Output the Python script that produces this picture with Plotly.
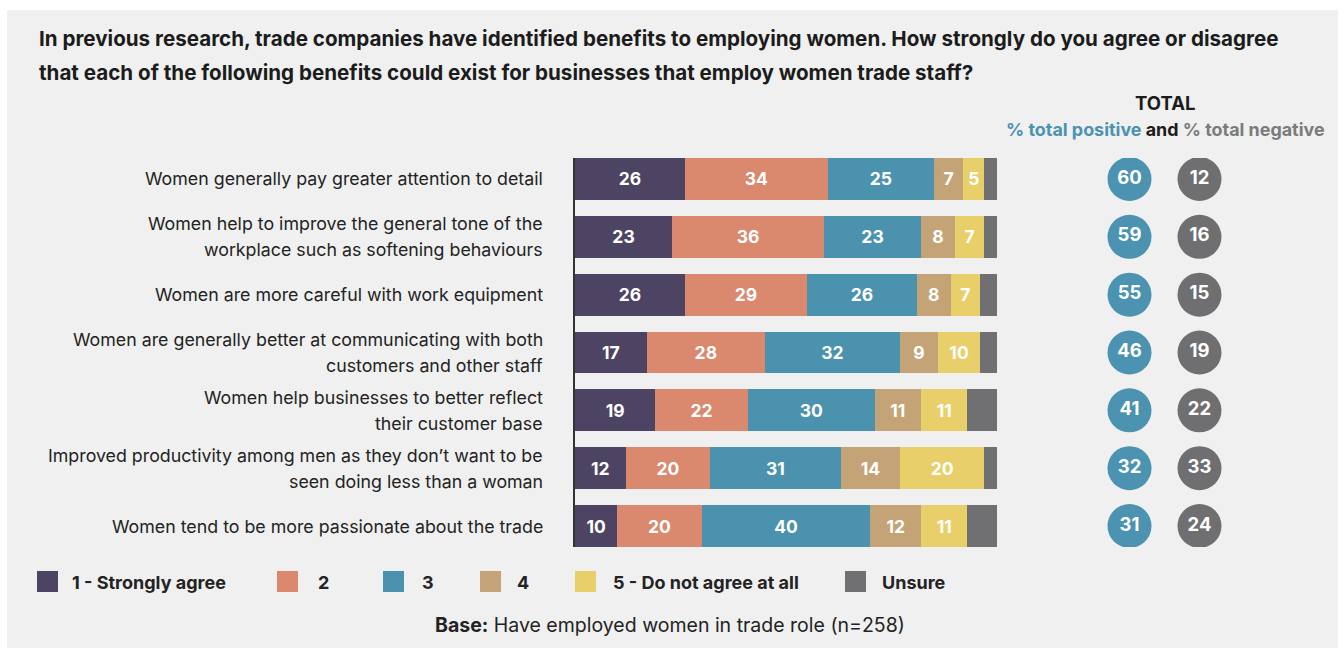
import plotly.graph_objects as go

# Survey statements (each line of a wrapped label is its own entry)
statements = [
    ["Women generally pay greater attention to detail"],
    ["Women help to improve the general tone of the", "workplace such as softening behaviours"],
    ["Women are more careful with work equipment"],
    ["Women are generally better at communicating with both", "customers and other staff"],
    ["Women help businesses to better reflect", "their customer base"],
    ["Improved productivity among men as they don\u2019t want to be", "seen doing less than a woman"],
    ["Women tend to be more passionate about the trade"],
]

# Response shares (%) per statement
strongly_agree = [26, 23, 26, 17, 19, 12, 10]
agree_2 = [34, 36, 29, 28, 22, 20, 20]
neutral_3 = [25, 23, 26, 32, 30, 31, 40]
disagree_4 = [7, 8, 8, 9, 11, 14, 12]
not_agree = [5, 7, 7, 10, 11, 20, 11]
unsure = [3, 3, 4, 4, 7, 3, 7]

# Totals shown in the side columns
total_positive = [60, 59, 55, 46, 41, 32, 31]
total_negative = [12, 16, 15, 19, 22, 33, 24]

series_names = ["1 - Strongly agree", "2", "3", "4", "5 - Do not agree at all", "Unsure"]
series_values = [strongly_agree, agree_2, neutral_3, disagree_4, not_agree, unsure]
series_colors = ["#4d4463", "#da886e", "#4b92ae", "#c4a476", "#e9cf69", "#707072"]

W, H = 1344, 648
FONT = "Inter"
TEXT_DARK = "#232323"
PANEL = "#eff0ef"

rows = list(range(len(statements)))

fig = go.Figure()

for name, vals, col in zip(series_names, series_values, series_colors):
    labels = ["" if name == "Unsure" else str(v) for v in vals]
    fig.add_trace(go.Bar(
        y=rows, x=vals, orientation="h", name=name,
        marker=dict(color=col, line=dict(width=0)),
        width=0.726,
        text=labels, textposition="inside", insidetextanchor="middle",
        textfont=dict(family=FONT, size=17.5, color="white", weight="bold"),
        hoverinfo="skip", showlegend=False,
    ))

# Total positive / negative circles
for col_idx, (vals, col) in enumerate([(total_positive, "#4b93b0"), (total_negative, "#6f6f71")]):
    fig.add_trace(go.Scatter(
        x=[col_idx] * len(vals), y=rows, mode="markers+text",
        marker=dict(size=44, color=col, line=dict(width=0)),
        text=[str(v) for v in vals], textposition="middle center",
        textfont=dict(family=FONT, size=18.5, color="white", weight="bold"),
        xaxis="x2", yaxis="y", hoverinfo="skip", showlegend=False,
    ))

annotations = []

# Statement labels, right aligned next to the bars
for i, lines in enumerate(statements):
    n = len(lines)
    for j, line in enumerate(lines):
        shift = 0 if n == 1 else (13 if j == 0 else -13)
        annotations.append(dict(
            text=line, xref="paper", yref="y", x=545 / W, y=i, yshift=shift,
            xanchor="right", yanchor="middle", showarrow=False,
            font=dict(family=FONT, size=17.8, color=TEXT_DARK),
        ))

# Title
title_lines = [
    "In previous research, trade companies have identified benefits to employing women. How strongly do you agree or disagree",
    "that each of the following benefits could exist for businesses that employ women trade staff?",
]
for k, t in enumerate(title_lines):
    annotations.append(dict(
        text=t, xref="paper", yref="paper", x=37 / W, y=1 - (38 + 35 * k) / H,
        xanchor="left", yanchor="middle", showarrow=False,
        font=dict(family=FONT, size=20.6, color="#1c1c1c", weight="bold"),
    ))

# Side column header
annotations.append(dict(
    text="TOTAL", xref="paper", yref="paper", x=1165 / W, y=1 - 103 / H,
    xanchor="center", yanchor="middle", showarrow=False,
    font=dict(family=FONT, size=18.5, color="#1c1c1c", weight="bold"),
))
annotations.append(dict(
    text="<span style='color:#4b93b0'>% total positive</span> and "
         "<span style='color:#7b7b7c'>% total negative</span>",
    xref="paper", yref="paper", x=1165 / W, y=1 - 129 / H,
    xanchor="center", yanchor="middle", showarrow=False,
    font=dict(family=FONT, size=17.9, color="#1c1c1c", weight="bold"),
))

# Legend drawn as swatches + labels
legend_swatch_x = [37, 277, 383, 480, 575, 845]
legend_text_x = [70, 316, 420, 515, 611, 880]
shapes = [dict(type="rect", xref="paper", yref="paper", x0=7 / W, x1=1338 / W,
               y0=0, y1=1 - 10 / H, fillcolor=PANEL, line=dict(width=0), layer="below")]
for name, col, sx, tx in zip(series_names, series_colors, legend_swatch_x, legend_text_x):
    shapes.append(dict(type="rect", xref="paper", yref="paper",
                       x0=sx / W, x1=(sx + 21) / W, y0=1 - 592 / H, y1=1 - 571 / H,
                       fillcolor=col, line=dict(width=0)))
    annotations.append(dict(
        text=name, xref="paper", yref="paper", x=tx / W, y=1 - 582 / H,
        xanchor="left", yanchor="middle", showarrow=False,
        font=dict(family=FONT, size=18, color=TEXT_DARK, weight="bold"),
    ))

# Base note
annotations.append(dict(
    text="<b>Base:</b> Have employed women in trade role (n=258)",
    xref="paper", yref="paper", x=670 / W, y=1 - 625 / H,
    xanchor="center", yanchor="middle", showarrow=False,
    font=dict(family=FONT, size=19.5, color=TEXT_DARK),
))

fig.update_layout(
    width=W, height=H,
    margin=dict(l=0, r=0, t=0, b=0),
    paper_bgcolor="white", plot_bgcolor="rgba(0,0,0,0)",
    barmode="stack",
    uniformtext=dict(minsize=16, mode="show"),
    xaxis=dict(domain=[575 / W, 997 / W], range=[0, 100], showgrid=False,
               zeroline=False, showticklabels=False, ticks=""),
    xaxis2=dict(domain=[1094.5 / W, 1234.5 / W], range=[-0.5, 1.5], anchor="y",
                showgrid=False, zeroline=False, showticklabels=False, ticks=""),
    yaxis=dict(domain=[1 - 547 / H, 1 - 158 / H], range=[6.363, -0.363],
               showgrid=False, zeroline=False, showticklabels=False, ticks="",
               showline=True, linecolor="#333333", linewidth=1.5),
    shapes=shapes,
    annotations=annotations,
)

fig.write_html("out.html")
